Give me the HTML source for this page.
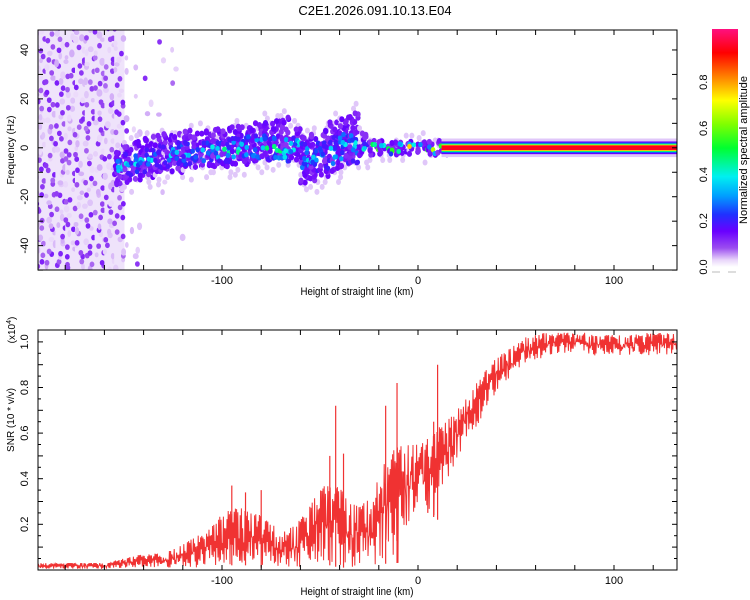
<!DOCTYPE html>
<html><head><meta charset="utf-8"><style>
html,body{margin:0;padding:0;background:#fff;}
svg{display:block;font-family:"Liberation Sans",sans-serif;}
</style></head><body>
<svg id="chart" width="750" height="600" viewBox="0 0 750 600" xmlns="http://www.w3.org/2000/svg">
<defs>
<clipPath id="clipTop"><rect x="38" y="30" width="639" height="240"/></clipPath>
<clipPath id="clipBot"><rect x="38" y="330" width="639" height="240"/></clipPath>
<linearGradient id="cbGrad" x1="0" y1="1" x2="0" y2="0">
<stop offset="0" stop-color="#ffffff"/><stop offset="0.03" stop-color="#e8d4fa"/><stop offset="0.08" stop-color="#9b4df0"/>
<stop offset="0.15" stop-color="#6a00ff"/><stop offset="0.22" stop-color="#2030ff"/><stop offset="0.3" stop-color="#00a0ff"/>
<stop offset="0.38" stop-color="#00f0f0"/><stop offset="0.5" stop-color="#00ff30"/><stop offset="0.6" stop-color="#80ff00"/>
<stop offset="0.7" stop-color="#ffff00"/><stop offset="0.8" stop-color="#ff8000"/><stop offset="0.9" stop-color="#ff0000"/>
<stop offset="1" stop-color="#ff1080"/></linearGradient>
</defs>
<text x="375" y="15" text-anchor="middle" font-size="13">C2E1.2026.091.10.13.E04</text>
<g id="specMarks" clip-path="url(#clipTop)"></g>
<g id="snrMarks" clip-path="url(#clipBot)"></g>
<g id="axes"></g>
</svg>
<script>
// ---------- data ----------
const xTickKm = [-100, 0, 100];
const xTickLabels = ["-100", "0", "100"];
const freqTicks = [40, 20, 0, -20, -40];
const freqTickLabels = ["40", "20", "0", "-20", "-40"];
const snrTicks = [0.2, 0.4, 0.6, 0.8, 1.0];
const snrTickLabels = ["0.2", "0.4", "0.6", "0.8", "1.0"];
const cbTicks = [0, 0.2, 0.4, 0.6, 0.8];
const cbTickLabels = ["0.0", "0.2", "0.4", "0.6", "0.8"];

const ridgeKm = [-155,-150,-145,-140,-135,-130,-125,-120,-115,-110,-105,-100,-95,-90,-85,-80,-75,-70,-65,-60,-55,-50,-45,-40,-35,-30,-25,-20,-15,-10,-5,0,5,10];
const ridgeCenter = [-8,-7,-6,-5,-4,-3,-2,-2,-2,-2,-1,-1,-1,0,0,0,0,0,0,-4,-4,-3,-2,0,0,0,0,0,-1,0,0,0,-1,0];
const ridgeUpper = [-2,0,2,3,4,5,5,6,6,6,7,8,8,8,9,10,10,12,8,4,5,7,10,12,14,5,2,2,2,2,2,2,2,2];
const ridgeLower = [-15,-14,-13,-12,-11,-10,-10,-9,-8,-8,-8,-8,-7,-7,-6,-6,-5,-5,-5,-15,-14,-12,-10,-8,-6,-4,-3,-3,-3,-3,-3,-2,-3,-3];
const ridgePeak = [0.45,0.45,0.45,0.4,0.35,0.4,0.45,0.45,0.45,0.45,0.5,0.5,0.5,0.5,0.5,0.5,0.55,0.6,0.55,0.45,0.45,0.4,0.45,0.5,0.5,0.55,0.9,0.95,0.95,0.95,1.0,0.9,0.95,0.95];
const bandStartKm = 12, bandEndKm = 135, bandPeak = 1.0;

const noiseKm = [-195,-190,-185,-180,-175,-170,-165,-160,-155,-150,-145,-140,-135,-130,-125];
const noiseDensity = [1,1,1,1,1,1,1,1,0.9,0.2,0.15,0.15,0.12,0.06,0.03];

const snrKm = [-195,-190,-185,-180,-175,-170,-165,-160,-155,-150,-145,-140,-135,-130,-125,-120,-115,-110,-105,-100,-95,-90,-85,-80,-75,-70,-65,-60,-55,-50,-45,-40,-35,-30,-25,-20,-15,-10,-5,0,5,10,15,20,25,30,35,40,45,50,55,60,65,70,75,80,85,90,95,100,105,110,115,120,125,130,135];
const snrHigh = [.03,.03,.03,.03,.03,.03,.03,.03,.04,.05,.06,.07,.07,.08,.09,.11,.14,.16,.2,.25,.27,.27,.25,.24,.2,.18,.19,.22,.28,.36,.38,.36,.3,.28,.32,.42,.5,.55,.55,.55,.58,.62,.66,.7,.76,.82,.88,.93,.96,.99,1.02,1.03,1.04,1.04,1.04,1.04,1.04,1.03,1.03,1.03,1.03,1.03,1.04,1.04,1.04,1.04,1.04];
const snrLow = [.005,.005,.005,.005,.005,.005,.005,.005,.005,.01,.01,.01,.01,.01,.01,.01,.01,.01,.02,.02,.02,.02,.02,.01,.01,.01,.01,.01,.02,.02,.02,.01,.01,.01,.01,.02,.03,.03,.2,.28,.25,.22,.4,.48,.58,.63,.7,.78,.83,.86,.9,.92,.93,.94,.94,.94,.94,.94,.94,.94,.94,.94,.94,.94,.94,.94,.94];
const spikeKm = [-95,-88,-80,-45,-42,-38,-16.5,-10.7,5,8,10];
const spikeVal = [.37,.34,.35,.5,.72,.51,.72,.82,.5,.65,.9];

// ---------- scales ----------
const X0 = 38, X1 = 677;
const xs = km => 418 + km * 1.96;
const yTop = hz => 147.8 - hz * 2.446;
const ySnr = v => 569.9 - v * 228;
const yCb = a => 267 - a * 231;
const NS = "http://www.w3.org/2000/svg";
function mk(tag, attrs, parent){const e=document.createElementNS(NS,tag);for(const k in attrs)e.setAttribute(k,attrs[k]);parent.appendChild(e);return e;}
// texture jitter only
function h(i){const s=Math.sin(i*12.9898+78.233)*43758.5453;return s-Math.floor(s);}

const cmS = [0,0.03,0.08,0.15,0.22,0.3,0.38,0.5,0.6,0.7,0.8,0.9,1.0];
const cmC = [[255,255,255],[232,212,250],[155,77,240],[106,0,255],[32,48,255],[0,160,255],[0,240,240],[0,255,48],[128,255,0],[255,255,0],[255,128,0],[255,0,0],[255,16,128]];
function cmap(a){a=Math.max(0,Math.min(1,a));for(let i=1;i<cmS.length;i++){if(a<=cmS[i]){const t=(a-cmS[i-1])/(cmS[i]-cmS[i-1]);const c=cmC[i-1].map((v,j)=>Math.round(v+(cmC[i][j]-v)*t));return `rgb(${c[0]},${c[1]},${c[2]})`;}}return "rgb(255,16,128)";}

// ---------- spectrogram ----------
const spec = document.getElementById('specMarks');
let seed = 1;
// noise field
for (let b=0;b<noiseKm.length;b++){
  const d = noiseDensity[b];
  if (d>0.8){
    const r = mk('rect',{x:xs(noiseKm[b]),y:30,width:5*1.96+0.5,height:240,fill:'#efe3fb'},spec);
    
    
  }
  for (let f=-50; f<50; f+=2.2){
    seed++;
    if (h(seed) > d) continue;
    const dark = d>0.8 ? h(seed*7.7) < 0.55 : h(seed*7.7) < 0.15;
    const a = dark ? 0.065 + 0.06*h(seed*3.1) : 0.025 + 0.02*h(seed*3.1);
    const e = mk('ellipse',{cx:xs(noiseKm[b]+5*h(seed*1.7)),cy:yTop(f+2.2*h(seed*2.3)),rx:dark?2.4:1.8+1.2*h(seed*5.3),ry:dark?2.8:2.2+1.8*h(seed*4.1),fill:cmap(a)},spec);
    
    
  }
}
// ridge blobs
for (let b=0;b<ridgeKm.length;b++){
  const x = xs(ridgeKm[b]), w = 5*1.96;
  const up = ridgeUpper[b], lo = ridgeLower[b], c = ridgeCenter[b], p = ridgePeak[b];
  for (let f=lo-4; f<=up+4; f+=2){
    seed++;
    if (h(seed) < 0.35) continue;
    const e = mk('ellipse',{cx:x+w*h(seed*1.1),cy:yTop(f),rx:2.5,ry:3,fill:cmap(0.035)},spec);
    
    
  }
  for (let f=lo; f<=up; f+=1.5){
    for (let k=0;k<2;k++){
      seed++;
      const e = mk('ellipse',{cx:x+w*h(seed*1.9),cy:yTop(f+1.5*h(seed*2.1)),rx:2.6,ry:3,fill:cmap(0.1+0.06*h(seed*4.4))},spec);
      
      
    }
  }
  const n = Math.max(2, Math.round((up-lo)*0.6));
  for (let k=0;k<n;k++){
    seed++;
    const span = Math.max(2,(up-lo)/2);
    const f = c + (h(seed*1.3)-0.5)*span*1.3;
    const a = p*(1-Math.abs(f-c)/(span*1.2))*(0.45+0.55*h(seed*2.9));
    const e = mk('ellipse',{cx:x+w*h(seed*3.7),cy:yTop(f),rx:2.3,ry:2.6,fill:cmap(Math.max(0.18,a))},spec);
    
    
  }
}
[[3.8,0.035],[2.6,0.15],[2.1,0.25],[1.7,0.45],[1.3,0.7],[1.0,0.92]].forEach(([hw,a])=>{
  const r = mk('rect',{x:xs(bandStartKm),y:yTop(hw),width:xs(bandEndKm)-xs(bandStartKm),height:yTop(-hw)-yTop(hw),fill:cmap(a*bandPeak)},spec);
  
  
});

// ---------- SNR ----------
const snr = document.getElementById('snrMarks');
function interp(arr, km){
  const t=(km-snrKm[0])/5; const i=Math.max(0,Math.min(snrKm.length-2,Math.floor(t))); const f=Math.max(0,Math.min(1,t-i));
  return arr[i]+(arr[i+1]-arr[i])*f;
}
let d = '';
let s2 = 0;
for (let px=X0; px<=X1; px+=0.6){
  const km = (px-418)/1.96;
  const lo = interp(snrLow, km), hi = interp(snrHigh, km);
  s2++;
  const r = h(s2*1.37);
  const v = (s2%2===0) ? hi - (hi-lo)*0.6*r*r : lo + (hi-lo)*0.6*r;
  d += (d ? 'L' : 'M') + px.toFixed(1) + ' ' + ySnr(v).toFixed(1);
}
const line = mk('path',{d:d,fill:'none',stroke:'#f03232','stroke-width':1},snr);


for (let i=0;i<spikeKm.length;i++){
  const base = interp(snrLow, spikeKm[i]);
  const sp = mk('line',{x1:xs(spikeKm[i]),x2:xs(spikeKm[i]),y1:ySnr(base),y2:ySnr(spikeVal[i]),stroke:'#f03232','stroke-width':1.2},snr);
  
  
}

// ---------- axes ----------
const ax = document.getElementById('axes');
function frame(y0,y1,name){
  const r = mk('rect',{x:X0,y:y0,width:X1-X0,height:y1-y0,fill:'none',stroke:'#000','stroke-width':1},ax);
  
  
  for (let km=-180; km<=120; km+=20){
    const x = xs(km);
    mk('line',{x1:x,x2:x,y1:y1,y2:y1-5,stroke:'#000'},ax);
    mk('line',{x1:x,x2:x,y1:y0,y2:y0+5,stroke:'#000'},ax);
  }
  xTickKm.forEach((km,i)=>{
    const t = mk('text',{x:xs(km),y:y1+14,'text-anchor':'middle','font-size':11},ax);
    t.textContent = xTickLabels[i];
    
    
  });
  const xt = mk('text',{x:357,y:y1+25,'text-anchor':'middle','font-size':11,transform:`translate(357 ${y1+25}) scale(0.88 1) translate(-357 ${-(y1+25)})`},ax);
  xt.textContent = 'Height of straight line (km)';
  
  
}
frame(30,270,'spectrogram-frame');
frame(330,570,'snr-frame');
for (let f=-50; f<=48; f+=10){
  const y=yTop(f);
  mk('line',{x1:X0,x2:X0+5,y1:y,y2:y,stroke:'#000'},ax);
  mk('line',{x1:X1,x2:X1-5,y1:y,y2:y,stroke:'#000'},ax);
}
freqTicks.forEach((f,i)=>{
  const t = mk('text',{x:0,y:0,'text-anchor':'middle','font-size':11,transform:`translate(28 ${yTop(f)}) rotate(-90)`},ax);
  t.textContent = freqTickLabels[i];
  
  
});
const yt1 = mk('text',{x:0,y:0,'text-anchor':'middle','font-size':10,transform:`translate(14 150) rotate(-90)`},ax);
yt1.textContent = 'Frequency (Hz)';


for (let v=0.05; v<=1.05; v+=0.05){
  const y=ySnr(v);
  const len = (Math.round(v*20)%2===0)?5:3;
  mk('line',{x1:X0,x2:X0+len,y1:y,y2:y,stroke:'#000'},ax);
  mk('line',{x1:X1,x2:X1-len,y1:y,y2:y,stroke:'#000'},ax);
}
snrTicks.forEach((v,i)=>{
  const t = mk('text',{x:0,y:0,'text-anchor':'middle','font-size':11,transform:`translate(28 ${ySnr(v)}) rotate(-90)`},ax);
  t.textContent = snrTickLabels[i];
  
  
});
const mult = mk('text',{x:0,y:0,'text-anchor':'middle','font-size':10,transform:`translate(15 330) rotate(-90)`},ax);
mult.innerHTML = '(x10<tspan dy="-4" font-size="7">4</tspan><tspan dy="4">)</tspan>';


const yt2 = mk('text',{x:0,y:0,'text-anchor':'middle','font-size':10,transform:`translate(14 420) rotate(-90)`},ax);
yt2.textContent = 'SNR (10 * v/v)';



const cb = mk('rect',{x:712,y:29,width:26,height:238,fill:'url(#cbGrad)'},ax);


mk('line',{x1:712,x2:720,y1:272,y2:272,stroke:'#bbb'},ax);
mk('line',{x1:728,x2:736,y1:272,y2:272,stroke:'#bbb'},ax);
cbTicks.forEach((a,i)=>{
  const t = mk('text',{x:0,y:0,'text-anchor':'middle','font-size':11,transform:`translate(707 ${yCb(a)}) rotate(-90)`},ax);
  t.textContent = cbTickLabels[i];
  
  
});
const cbt = mk('text',{x:0,y:0,'text-anchor':'middle','font-size':11,transform:`translate(747 150) rotate(-90)`},ax);
cbt.textContent = 'Normalized spectral amplitude';


</script>
</body></html>
